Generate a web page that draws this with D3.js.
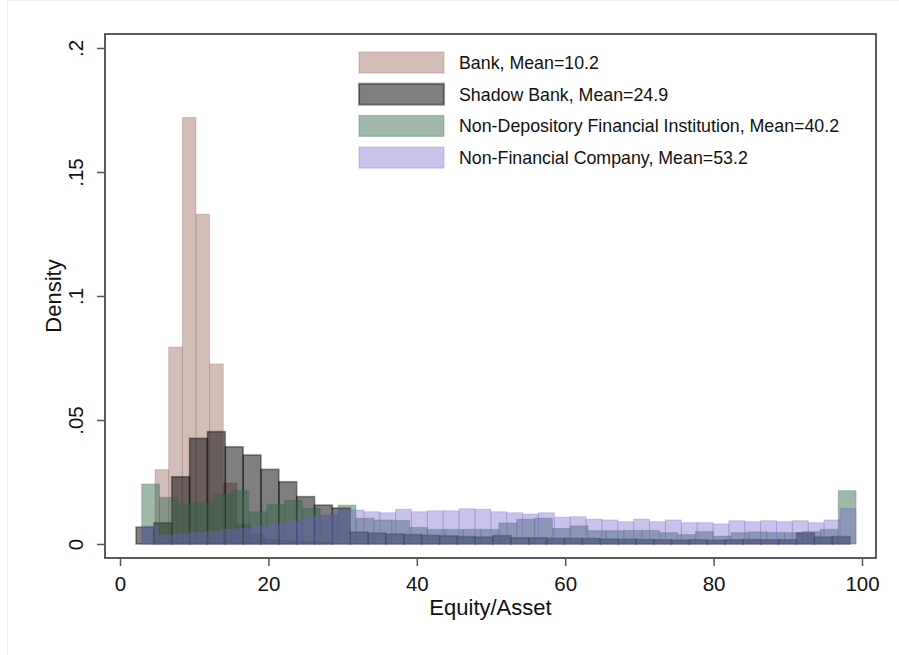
<!DOCTYPE html>
<html><head><meta charset="utf-8">
<script src="https://cdn.jsdelivr.net/npm/d3@7"></script>
<style>
body{margin:0;background:#fff;}
svg{display:block;}
text{font-family:"Liberation Sans",Arial,Helvetica,sans-serif;fill:#111;}
</style>
</head><body>
<svg id="chart" width="899" height="655"></svg>
<script>
// ---------- data ----------
const seriesNames = [
  "Bank, Mean=10.2",
  "Shadow Bank, Mean=24.9",
  "Non-Depository Financial Institution, Mean=40.2",
  "Non-Financial Company, Mean=53.2"
];

const bankBinStart = 4.72, bankBinWidth = 1.84;
const bankDensity = [0.030,0.0794,0.172,0.133,0.0726,0.0246,0.008,0.004,0.002,0.0015,0.001,0.001,0.0008];

const shadowBinStart = 2.16, shadowBinWidth = 2.406;
const shadowDensity = [0.0068,0.0085,0.0271,0.0426,0.0453,0.0392,0.0359,0.0301,0.0251,0.0191,
  0.0157,0.0145,0.0048,0.0044,0.004,0.0038,0.0035,0.0033,0.003,0.0028,
  0.0034,0.0025,0.0025,0.0023,0.0023,0.0022,0.002,0.0019,0.0018,0.0017,
  0.0016,0.0017,0.0015,0.0017,0.0018,0.0017,0.0017,0.0045,0.0028,0.003];

const ndfiBinStart = 2.92, ndfiBinWidth = 2.407;
const ndfiDensity = [0.0242,0.0188,0.0162,0.0165,0.020,0.0215,0.013,0.016,0.0177,0.0144,
  0.0117,0.0157,0.0104,0.0097,0.0095,0.0067,0.0059,0.0059,0.0059,0.0059,
  0.0085,0.010,0.0104,0.0063,0.0073,0.0054,0.0054,0.0055,0.0055,0.0046,
  0.0038,0.005,0.0032,0.0046,0.0049,0.0047,0.0046,0.005,0.0059,0.0215];

const nfcBinStart = 2.92, nfcBinWidth = 2.139;
const nfcDensity = [0.0073,0.0036,0.004,0.0046,0.005,0.0059,0.0063,0.0074,0.0081,0.009,
  0.0108,0.0117,0.0134,0.0137,0.013,0.0126,0.014,0.013,0.0134,0.0134,
  0.0142,0.014,0.013,0.0126,0.0121,0.0126,0.0108,0.011,0.010,0.0097,
  0.009,0.010,0.009,0.0097,0.0086,0.0086,0.0081,0.0094,0.009,0.0094,
  0.009,0.0094,0.0086,0.0097,0.0144];

const xTicks = [0,20,40,60,80,100];
const yTicks = [0,0.05,0.1,0.15,0.2];
const yTickLabels = ["0",".05",".1",".15",".2"];

// ---------- styles ----------
const styles = [
  {fill:"rgb(145,90,78)",  fo:0.40, stroke:"rgb(145,90,78)",  so:0.25, sw:1},
  {fill:"rgb(0,0,0)",      fo:0.50, stroke:"rgb(0,0,0)",      so:0.40, sw:1.6},
  {fill:"rgb(45,100,70)",  fo:0.46, stroke:"rgb(45,100,70)",  so:0.25, sw:1},
  {fill:"rgb(110,95,205)", fo:0.38, stroke:"rgb(110,95,205)", so:0.25, sw:1}
];

const series = [
  {start:bankBinStart, width:bankBinWidth, values:bankDensity},
  {start:shadowBinStart, width:shadowBinWidth, values:shadowDensity},
  {start:ndfiBinStart, width:ndfiBinWidth, values:ndfiDensity},
  {start:nfcBinStart, width:nfcBinWidth, values:nfcDensity}
];

// ---------- layout ----------
const svg = d3.select("#chart");
const frame = {left:105, right:876, top:34, bottom:558};
const x = d3.scaleLinear().domain([0,100]).range([120,862]);
const y = d3.scaleLinear().domain([0,0.2]).range([544,48]);

svg.append("rect").attr("x",0).attr("y",0).attr("width",899).attr("height",655).attr("fill","#fff");
svg.append("line").attr("x1",7.5).attr("x2",7.5).attr("y1",0).attr("y2",655).attr("stroke","#f0f0f0");
svg.append("line").attr("x1",7).attr("x2",899).attr("y1",0.5).attr("y2",0.5).attr("stroke","#f0f0f0");

// bars
series.forEach((s,i)=>{
  const st = styles[i];
  const bins = s.values.map((v,k)=>({x0:s.start + k*s.width, x1:s.start+(k+1)*s.width, v}));
  svg.append("g").selectAll("rect").data(bins).join("rect")
    .attr("x",d=>x(d.x0))
    .attr("width",d=>x(d.x1)-x(d.x0))
    .attr("y",d=>y(d.v))
    .attr("height",d=>y(0)-y(d.v))
    .attr("fill",st.fill).attr("fill-opacity",st.fo)
    .attr("stroke",st.stroke).attr("stroke-opacity",st.so).attr("stroke-width",st.sw);
});

// frame
svg.append("rect").attr("x",frame.left).attr("y",frame.top)
  .attr("width",frame.right-frame.left).attr("height",frame.bottom-frame.top)
  .attr("fill","none").attr("stroke","#333").attr("stroke-width",1.6);

// x axis
const xAxis = d3.axisBottom(x).tickValues(xTicks).tickSize(8).tickPadding(10).tickFormat(d3.format("d"));
const gx = svg.append("g").attr("transform",`translate(0,${frame.bottom})`).call(xAxis);
gx.select(".domain").remove();
gx.selectAll(".tick line").attr("stroke","#555").attr("stroke-width",1.5);
gx.selectAll(".tick text").attr("font-size",20.5).attr("font-family","Liberation Sans, Arial, sans-serif").attr("fill","#111");

// y axis
const yAxis = d3.axisLeft(y).tickValues(yTicks).tickSize(8).tickFormat((d,i)=>yTickLabels[i]);
const gy = svg.append("g").attr("transform",`translate(${frame.left},0)`).call(yAxis);
gy.select(".domain").remove();
gy.selectAll(".tick line").attr("stroke","#555").attr("stroke-width",1.5);
gy.selectAll(".tick text")
  .attr("font-size",20.5).attr("font-family","Liberation Sans, Arial, sans-serif").attr("fill","#111")
  .attr("x",0).attr("dy",0).attr("text-anchor","middle")
  .attr("transform","translate(-22,0) rotate(-90)");

// axis titles
svg.append("text").attr("x",(frame.left+frame.right)/2).attr("y",615)
  .attr("text-anchor","middle").attr("font-size",22).text("Equity/Asset");
svg.append("text").attr("transform",`translate(61,${(frame.top+frame.bottom)/2}) rotate(-90)`)
  .attr("text-anchor","middle").attr("font-size",22).text("Density");

// legend
const leg = svg.append("g");
const legTop = 52, legStep = 31.7;
seriesNames.forEach((name,i)=>{
  const st = styles[i];
  const yy = legTop + i*legStep;
  leg.append("rect").attr("x",359).attr("y",yy).attr("width",85).attr("height",21)
    .attr("fill",st.fill).attr("fill-opacity",st.fo)
    .attr("stroke",st.stroke).attr("stroke-opacity",st.so).attr("stroke-width",st.sw*1.3);
  leg.append("text").attr("x",459).attr("y",yy+17).attr("font-size",17.8).text(name);
});
</script>
</body></html>
